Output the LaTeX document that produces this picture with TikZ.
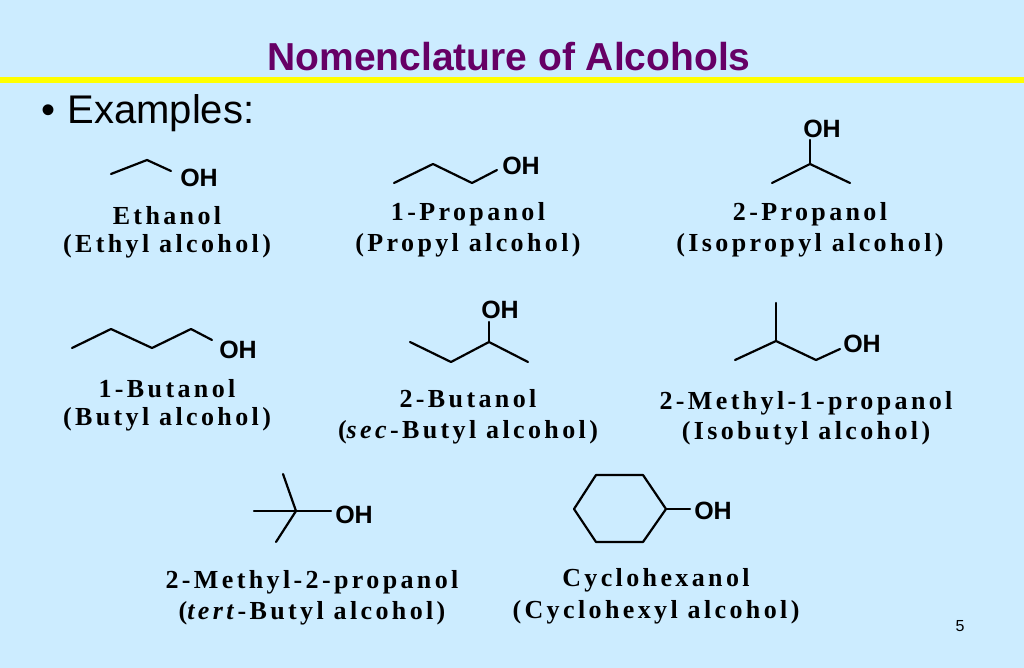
\documentclass[tikz,border=0pt]{standalone}
\usepackage{fontspec}
\setmainfont{Liberation Serif}
\newfontfamily\sansf{Liberation Sans}
\newfontfamily\labf[LetterSpace=13]{Liberation Serif}
\definecolor{bg}{HTML}{CCECFF}
\definecolor{ttl}{HTML}{660066}
\definecolor{yl}{HTML}{FFFF00}
\begin{document}
\begin{tikzpicture}[x=1pt,y=-1pt,
  bond/.style={line width=2.2pt,line cap=round,line join=round},
  oh/.style={font=\sansf\bfseries\fontsize{25}{27}\selectfont,inner sep=0pt},
  lab/.style={font=\labf\bfseries\fontsize{26}{28}\selectfont,inner sep=0pt}]
\fill[bg] (0,0) rectangle (1024,668);
\useasboundingbox (0,0) rectangle (1024,668);
\node[font=\sansf\bfseries\fontsize{39}{42}\selectfont,text=ttl] (title) at (509,57) {Nomenclature of Alcohols};
\fill[yl] (0,77) rectangle (1024,83);
\node[font=\sansf\fontsize{40}{44}\selectfont,anchor=west] (ex) at (38,113) {•\hspace{12pt}Examples:};
% Ethanol
\node[oh] (oh1) at (199,178) {OH};
\draw[bond] (111,174)--(147,160)--(171,171);
\node[lab] (l1a) at (167,216) {Ethanol};
\node[lab] (l1b) at (167,246) {(Ethyl alcohol)};
% 1-Propanol
\node[oh] (oh2) at (521,166) {OH};
\draw[bond] (394,183)--(433,164)--(472,183)--(497,170);
\node[lab] (l2a) at (468,214) {1-Propanol};
\node[lab] (l2b) at (468,245) {(Propyl alcohol)};
% 2-Propanol
\node[oh] (oh3) at (822,129) {OH};
\draw[bond] (810,140)--(810,164);
\draw[bond] (772,183)--(810,164)--(850,183);
\node[lab] (l3a) at (810,214) {2-Propanol};
\node[lab] (l3b) at (810,245) {(Isopropyl alcohol)};
% 1-Butanol
\node[oh] (oh4) at (238,350) {OH};
\draw[bond] (72,348)--(111,329)--(152,348)--(191,329)--(212,340);
\node[lab] (l4a) at (167,389) {1-Butanol};
\node[lab] (l4b) at (167,419) {(Butyl alcohol)};
% 2-Butanol
\node[oh] (oh5) at (500,310) {OH};
\draw[bond] (410,342)--(451,362)--(489,342)--(528,362);
\draw[bond] (489,342)--(489,322);
\node[lab] (l5a) at (468,399) {2-Butanol};
\node[lab] (l5b) at (468,432) {(\textit{sec}-Butyl alcohol)};
% 2-Methyl-1-propanol
\node[oh] (oh6) at (862,344) {OH};
\draw[bond] (735,360)--(776,341)--(816,360)--(840,349);
\draw[bond] (776,341)--(776,303);
\node[lab] (l6a) at (806,403) {2-Methyl-1-propanol};
\node[lab] (l6b) at (806,433) {(Isobutyl alcohol)};
% tert-butanol
\node[oh] (oh7) at (354,515) {OH};
\draw[bond] (283,474)--(296,511)--(276,542);
\draw[bond] (254,511)--(331,511);
\node[lab] (l7a) at (312,582) {2-Methyl-2-propanol};
\node[lab] (l7b) at (312,613) {(\textit{tert}-Butyl alcohol)};
% Cyclohexanol
\node[oh] (oh8) at (713,511) {OH};
\draw[bond] (596,475)--(643,475)--(666,509)--(643,542)--(596,542)--(574,509)--cycle;
\draw[bond] (666,509)--(690,509);
\node[lab] (l8a) at (656,580) {Cyclohexanol};
\node[lab] (l8b) at (656,612) {(Cyclohexyl alcohol)};
\node[font=\sansf\fontsize{16}{18}\selectfont] (pg) at (960,626) {5};
\end{tikzpicture}
\end{document}
